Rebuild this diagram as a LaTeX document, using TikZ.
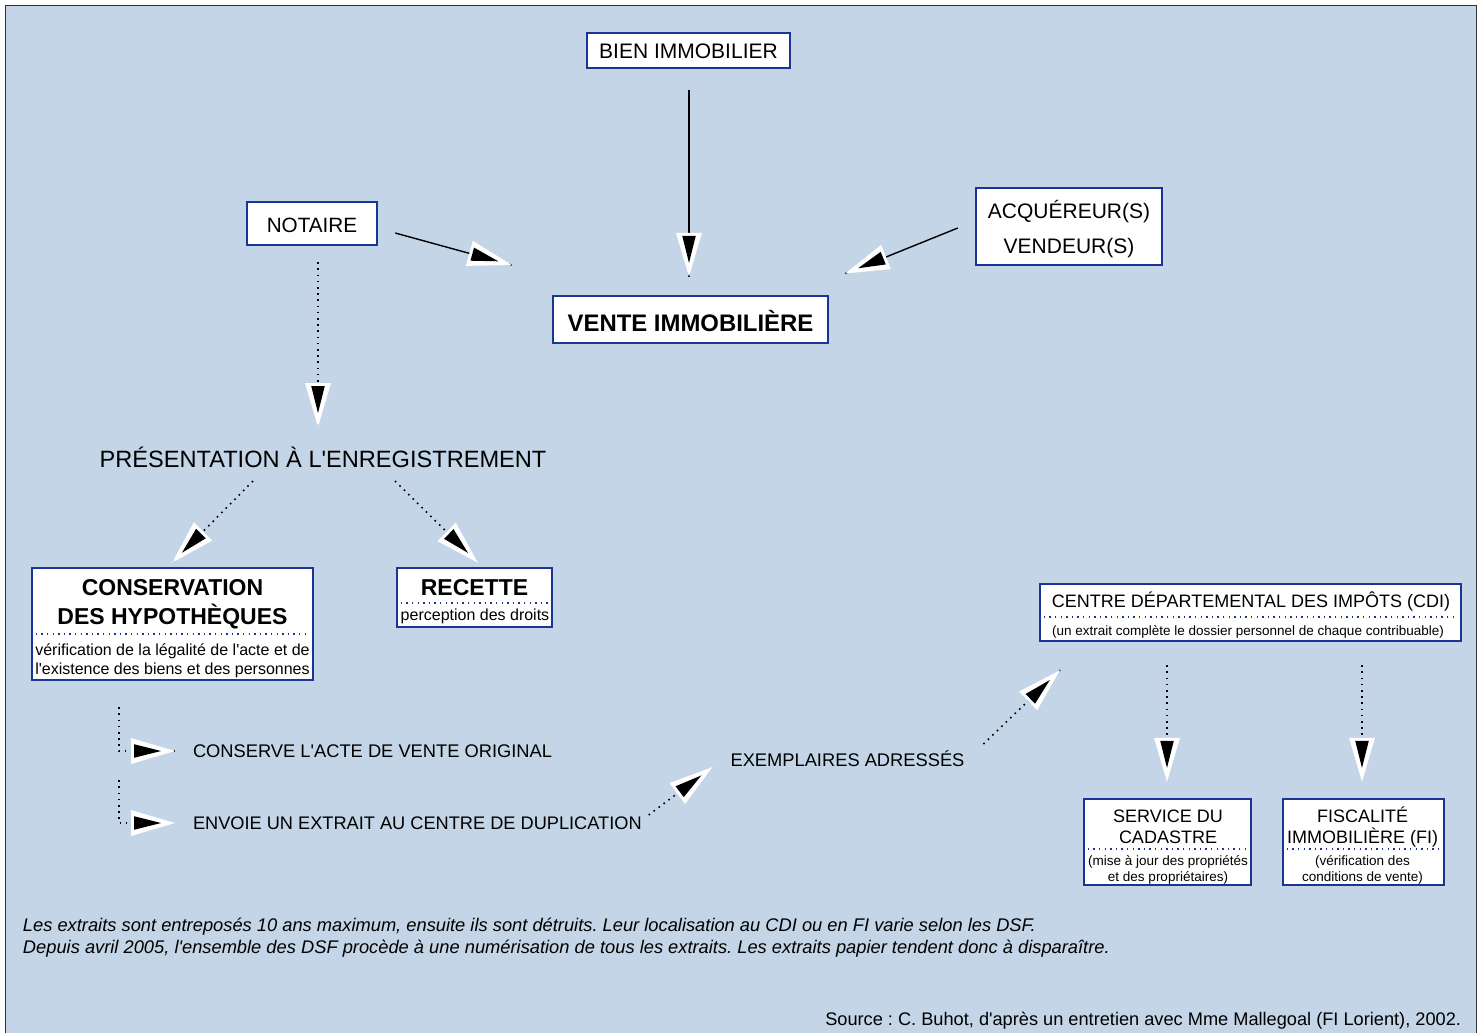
\documentclass[tikz,border=0pt]{standalone}
\usepackage{fontspec}
\setmainfont{Liberation Sans}
\usetikzlibrary{calc,decorations.markings}
\definecolor{bgblue}{RGB}{195,213,230}
\definecolor{boxblue}{RGB}{28,52,150}
\definecolor{framegray}{RGB}{50,50,50}
\newcommand{\aq}{\textquotesingle}
\frenchspacing
\tikzset{
  wbtip/.style={postaction={decorate,decoration={markings,
      mark=at position 1 with {
        \fill[white] (0pt,0pt) -- (-44pt,13pt) -- (-44pt,-13pt) -- cycle;
        \fill[black] (-14pt,0pt) -- (-41pt,6.8pt) -- (-41pt,-6.8pt) -- cycle;}}}},
  box/.style={draw=boxblue, line width=2.4pt, fill=white, inner sep=0pt},
  txt/.style={inner sep=0pt, outer sep=0pt, text=black},
  divider/.style={draw=boxblue, line width=1.4pt, dash pattern=on 1.4pt off 4.2pt},
  solidc/.style={draw=black, line width=1.4pt, wbtip},
  dotc/.style={draw=black, line width=1.6pt, dash pattern=on 1.6pt off 4.6pt, wbtip},
}
\begin{document}
\begin{tikzpicture}[x=1pt,y=-1pt]
\useasboundingbox (0,0) rectangle (1484,1033);
\clip (0,0) rectangle (1484,1033);
\fill[white] (0,0) rectangle (1484,1033);
\draw[framegray, line width=1.5pt, fill=bgblue] (5.5,5.5) rectangle (1476.5,1060);

% top boxes
\node[box, minimum width=203pt, minimum height=35pt] (bien) at (688.5,50.5) {};
\node[txt, font=\fontsize{21}{25}\selectfont] (bien-t) at (688.5,51.5) {BIEN IMMOBILIER};
\node[box, minimum width=130pt, minimum height=43pt] (notaire) at (312,223.5) {};
\node[txt, font=\fontsize{20.7}{25}\selectfont] (notaire-t) at (312,225) {NOTAIRE};
\node[box, minimum width=186pt, minimum height=77pt] (acq) at (1069,226.5) {};
\node[txt, align=center, font=\fontsize{21}{35}\selectfont] (acq-t) at (1069,229.5) {ACQUÉREUR(S)\\VENDEUR(S)};
\node[box, minimum width=275pt, minimum height=47pt] (vente) at (690.5,319.5) {};
\node[txt, font=\fontsize{23.9}{28}\selectfont\bfseries] (vente-t) at (690.5,321) {VENTE IMMOBILIÈRE};

\node[txt, font=\fontsize{23.6}{28}\selectfont] (pres) at (323,457) {PRÉSENTATION À L\aq ENREGISTREMENT};

% conservation
\node[box, minimum width=281pt, minimum height=112pt] (cons) at (172.5,624) {};
\node[txt, align=center, font=\fontsize{23}{29}\selectfont\bfseries] (cons-t) at (172.5,604.5) {CONSERVATION\\DES HYPOTHÈQUES};
\draw[divider] ($(cons.west)+(5,10)$) -- ($(cons.east)+(-5,10)$);
\node[txt, align=center, font=\fontsize{16}{19.5}\selectfont] (cons-s) at (172.5,661) {vérification de la légalité de l\aq acte et de\\l\aq existence des biens et des personnes};

% recette
\node[box, minimum width=155pt, minimum height=59pt] (rec) at (474.5,597.5) {};
\node[txt, font=\fontsize{23}{27}\selectfont\bfseries] (rec-t) at (474.5,588) {RECETTE};
\draw[divider] ($(rec.west)+(5,5.5)$) -- ($(rec.east)+(-5,5.5)$);
\node[txt, font=\fontsize{16}{19}\selectfont] (rec-s) at (475,616) {perception des droits};

% CDI
\node[box, minimum width=421pt, minimum height=57pt] (cdi) at (1250.5,612.5) {};
\node[txt, font=\fontsize{18}{22}\selectfont] (cdi-t) at (1251,601.5) {CENTRE DÉPARTEMENTAL DES IMPÔTS (CDI)};
\draw[divider] ($(cdi.west)+(5,4.5)$) -- ($(cdi.east)+(-5,4.5)$);
\node[txt, font=\fontsize{13.5}{16}\selectfont] (cdi-s) at (1248,631.5) {(un extrait complète le dossier personnel de chaque contribuable)};

% cadastre
\node[box, minimum width=167pt, minimum height=86pt] (cad) at (1167.5,842) {};
\node[txt, align=center, font=\fontsize{18}{21}\selectfont] (cad-t) at (1168,827) {SERVICE DU\\CADASTRE};
\draw[divider] ($(cad.west)+(5,7)$) -- ($(cad.east)+(-5,7)$);
\node[txt, align=center, font=\fontsize{13.5}{16}\selectfont] (cad-s) at (1168,869.5) {(mise à jour des propriétés\\et des propriétaires)};

% FI
\node[box, minimum width=161pt, minimum height=86pt] (fi) at (1363.5,842) {};
\node[txt, align=center, font=\fontsize{18}{21}\selectfont] (fi-t) at (1362.5,827) {FISCALITÉ\\IMMOBILIÈRE (FI)};
\draw[divider] ($(fi.west)+(5,7)$) -- ($(fi.east)+(-5,7)$);
\node[txt, align=center, font=\fontsize{13.5}{16}\selectfont] (fi-s) at (1362.5,869.5) {(vérification des\\conditions de vente)};

% free texts
\node[txt, anchor=west, font=\fontsize{18.3}{22}\selectfont] (conserve) at (193,751) {CONSERVE L\aq ACTE DE VENTE ORIGINAL};
\node[txt, anchor=west, font=\fontsize{18.2}{22}\selectfont] (envoie) at (193,823) {ENVOIE UN EXTRAIT AU CENTRE DE DUPLICATION};
\node[txt, font=\fontsize{18.3}{22}\selectfont] (exemp) at (847.5,759) {EXEMPLAIRES ADRESSÉS};

\node[txt, anchor=west, font=\fontsize{18.3}{22}\selectfont\itshape] (note1) at (23,927) {Les extraits sont entreposés 10 ans maximum, ensuite ils sont détruits. Leur localisation au CDI ou en FI varie selon les DSF.};
\node[txt, anchor=west, font=\fontsize{18.3}{22}\selectfont\itshape] (note2) at (23,949) {Depuis avril 2005, l\aq ensemble des DSF procède à une numérisation de tous les extraits. Les extraits papier tendent donc à disparaître.};
\node[txt, anchor=east, font=\fontsize{18.2}{22}\selectfont] (source) at (1461,1021) {Source : C. Buhot, d\aq après un entretien avec Mme Mallegoal (FI Lorient), 2002.};

% connectors
\draw[solidc] ($(bien.south)+(0.5,21)$) -- ($(vente.north)+(-1.5,-18)$);
\draw[solidc] ($(notaire.east)+(17,9.5)$) -- ($(vente.west)+(-40,-54.5)$);
\draw[solidc] ($(acq.west)+(-17,1.5)$) -- ($(vente.east)+(16,-46)$);
\draw[dotc] ($(notaire.south)+(6,16)$) -- ($(pres)+(-5,-30)$);
\draw[dotc] ($(pres)+(-70,24)$) -- ($(cons.north)+(-0.5,-4)$);
\draw[dotc] ($(pres)+(72,24)$) -- ($(rec.north)+(3.5,-4)$);
\draw[dotc] ($(cons.south)+(-53.5,26)$) |- ($(conserve.west)+(-18,0)$);
\draw[dotc] ($(cons.south)+(-53.5,99)$) |- ($(envoie.west)+(-18,0)$);
\draw[dotc] ($(envoie.east)+(7,-8)$) -- ($(exemp.west)+(-18,8)$);
\draw[dotc] ($(exemp.east)+(19,-15)$) -- ($(cdi.south)+(-190.5,28)$);
\draw[dotc] ($(cdi.south -| cad.north)+(-0.5,23)$) -- ($(cad.north)+(-0.5,-16)$);
\draw[dotc] ($(cdi.south -| fi.north)+(-1.5,23)$) -- ($(fi.north)+(-1.5,-16)$);
\end{tikzpicture}
\end{document}
